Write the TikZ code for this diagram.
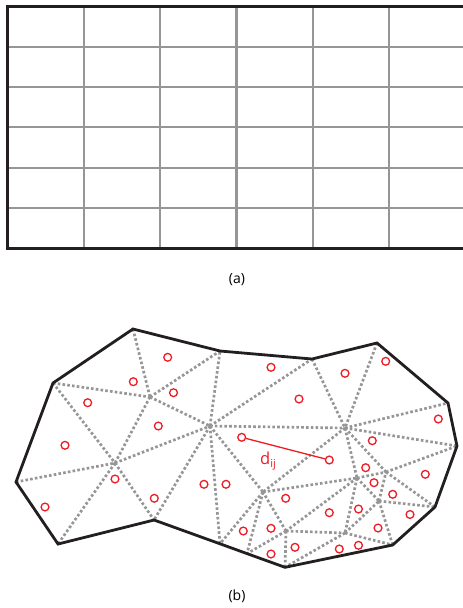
\documentclass[tikz,border=0pt]{standalone}
\usepackage{fontspec}
\setmainfont{Open Sans}
\definecolor{meshgray}{RGB}{150,150,150}
\definecolor{dotred}{RGB}{237,28,36}
\definecolor{edgeblack}{RGB}{35,31,32}
\begin{document}
\begin{tikzpicture}[x=1pt,y=-1pt,
  gridline/.style={meshgray, line width=2.2pt},
  frameline/.style={edgeblack, line width=3pt},
  meshline/.style={meshgray, line width=2.7pt, dash pattern=on 2.6pt off 2.2pt},
  boundline/.style={edgeblack, line width=2.8pt, line join=miter},
  sample/.style={circle, draw=dotred, line width=1.3pt, minimum size=7.8pt, inner sep=0pt},
  distline/.style={dotred, line width=1.3pt},
  lbl/.style={font=\fontsize{14}{16}\selectfont, inner sep=0pt}]
\useasboundingbox (0,0) rectangle (463,608);

% ---------- (a) regular grid ----------
\foreach \x in {83.7,160.1,236.5,312.9,389.3} \draw[gridline] (\x,6.7) -- (\x,248);
\foreach \y in {46.9,87.1,127.3,167.6,207.8} \draw[gridline] (7.3,\y) -- (463,\y);
\draw[frameline] (463,6.7) -- (7.3,6.7) -- (7.3,248) -- (463,248);
\node[lbl] (la) at (237,280) {(a)};

% ---------- (b) triangulated region ----------
% boundary vertices
\coordinate (b1) at (133,329);
\coordinate (b2) at (53,383);
\coordinate (b3) at (16,482);
\coordinate (b4) at (58,544);
\coordinate (b5) at (154,520);
\coordinate (b6) at (220,543.8);
\coordinate (b7) at (247,553.6);
\coordinate (b8) at (285,567.3);
\coordinate (b9) at (392.7,545);
\coordinate (b10) at (435,507);
\coordinate (b11) at (457,446);
\coordinate (b12) at (448,403);
\coordinate (b13) at (377,343);
\coordinate (b14) at (312,359);
\coordinate (b15) at (220,351);
% interior vertices
\coordinate (A) at (150,397);
\coordinate (B) at (210,426);
\coordinate (C) at (115,463);
\coordinate (D) at (345,428);
\coordinate (E) at (263,492);
\coordinate (F) at (386,472);
\coordinate (G) at (357,478);
\coordinate (J) at (379,501);
\coordinate (H) at (286,531);
\coordinate (I) at (345,533);

\foreach \u/\v in {b1/A,b2/A,A/b15,A/B,A/C,b2/C,b3/C,C/b4,C/B,C/b5,B/b5,B/b15,B/b6,
  B/D,B/b14,B/E,b14/D,b13/D,D/b12,D/b11,D/E,E/G,G/H,H/E,H/I,G/I,I/J,G/J,J/F,G/F,
  D/G,D/F,F/b11,F/b10,J/b10,J/b9,I/b9,I/b8,H/b8,H/b7,E/b7,E/b6}
  \draw[meshline] (\u) -- (\v);

\draw[boundline] (b1) -- (b15) -- (b14) -- (b13) -- (b12) -- (b11) -- (b10) -- (b9)
  -- (b8) -- (b7) -- (b6) -- (b5) -- (b4) -- (b3) -- (b2) -- cycle;

% sample points
\foreach \n/\x/\y in {1/167.7/357.3, 2/133.3/381.7, 3/173.5/392.7, 4/87.7/402.7,
  5/158.3/426, 6/65/445.3, 7/115/479, 8/204/484.3, 9/226/484.3, 10/154.3/498.3,
  11/45/507, 12/271/367.3, 13/345/373.3, 14/385.7/361.3, 15/299/399, 16/438.3/419,
  17/372.3/440.7, 18/365.7/467.7, 19/425.3/474.3, 20/374/482.7, 21/285.7/498.3,
  22/392.7/494.3, 23/410/514.5, 24/329.3/512.7, 25/358.5/509, 26/378/528,
  27/243.3/531, 28/271/528.3, 29/295/547.3, 30/271/554, 31/339.3/549, 32/358.5/545.3}
  \node[sample] (p\n) at (\x,\y) {};
\node[sample] (pi) at (241.7,437.3) {};
\node[sample] (pj) at (329.3,460) {};
\draw[distline] (pi) -- (pj);
\node[anchor=base west, inner sep=0pt, text=dotred, font=\fontsize{16.5}{16.5}\selectfont]
  (dij) at (260,464) {d\raisebox{-0.45ex}{\fontsize{11}{11}\selectfont ij}};

\node[lbl] (lb) at (237,596) {(b)};
\end{tikzpicture}
\end{document}
